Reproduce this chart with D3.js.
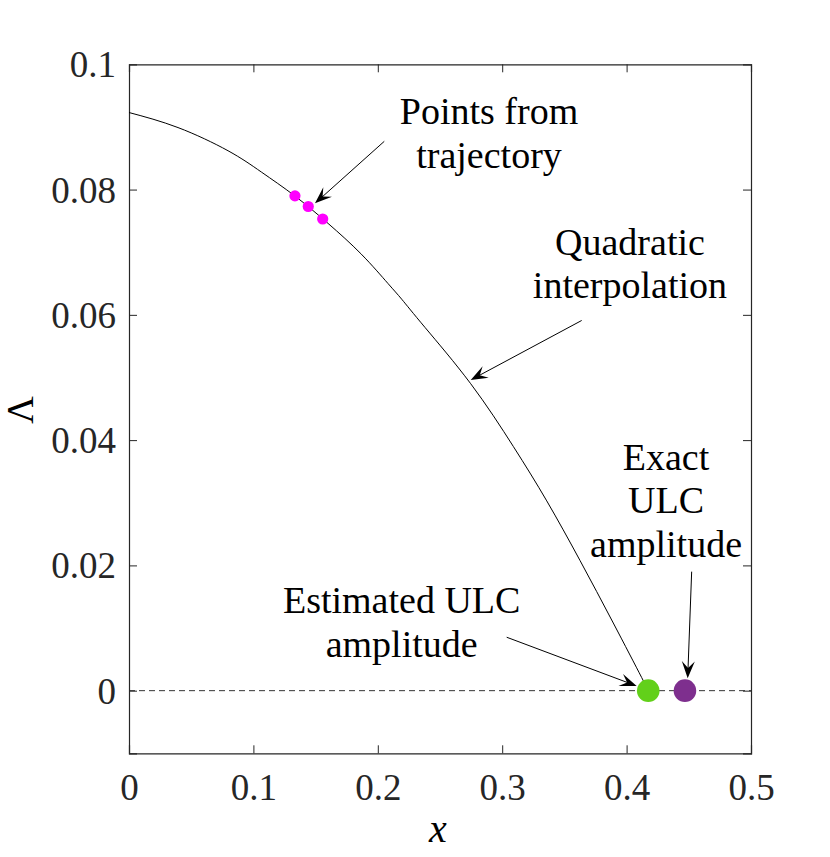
<!DOCTYPE html>
<html><head><meta charset="utf-8">
<script src="https://cdn.jsdelivr.net/npm/d3@7"></script>
<style>body{margin:0;background:#fff;}</style></head>
<body><svg id="c" width="830" height="857"></svg>
<script>
// curve (quadratic interpolation)
const curveX = [0, 0.0394, 0.0796, 0.1064, 0.1332, 0.160, 0.1867, 0.2082, 0.2192, 0.2379, 0.2747, 0.3089, 0.3358, 0.3625, 0.3893, 0.4121, 0.4174];
const curveY = [0.0923, 0.0899, 0.0862, 0.0828, 0.0790, 0.0746, 0.0697, 0.0650, 0.0625, 0.0580, 0.0490, 0.0390, 0.0303, 0.0208, 0.0108, 0.0021, 0];
// points from trajectory
const trajX = [0.1334, 0.1441, 0.1557];
const trajY = [0.0790, 0.0773, 0.0753];
// ULC amplitudes
const estX = 0.4174, exactX = 0.4469;
const xTicks = [0, 0.1, 0.2, 0.3, 0.4, 0.5];
const yTicks = [0, 0.02, 0.04, 0.06, 0.08, 0.1];
const yTickLabels = ["0", "0.02", "0.04", "0.06", "0.08", "0.1"];
const xTickLabels = ["0", "0.1", "0.2", "0.3", "0.4", "0.5"];
// annotations: text lines, anchor (data coords), arrow from -> to (data coords)
const annLines = [["Points from","trajectory"],["Quadratic","interpolation"],["Exact","ULC","amplitude"],["Estimated ULC","amplitude"]];
const annPos = [[0.2894,0.0904],[0.4027,0.0696],[0.4317,0.0353],[0.2192,0.01236]];
const arrFrom = [[0.2052,0.0877],[0.3639,0.0591],[0.4523,0.0190],[0.3036,0.00853]];
const arrTo = [[0.1495,0.0778],[0.2747,0.0496],[0.4491,0.00198],[0.4081,0.00075]];

const FONT = '"Liberation Serif"';
const svg = d3.select("#c");
const L=129, R=751, T=64.3, B=753.3;
const x = d3.scaleLinear().domain([0,0.5]).range([L,R]);
const y = d3.scaleLinear().domain([-0.01,0.1]).range([B,T]);
const axCol = "#262626";

// zero dashed line
svg.append("line").attr("x1",x(0)).attr("x2",x(0.5)).attr("y1",y(0)).attr("y2",y(0))
  .attr("stroke","#333").attr("stroke-width",1).attr("stroke-dasharray","6,4");

// axes (ticks inward)
const tl=8;
const gB = svg.append("g").attr("transform",`translate(0,${B})`)
  .call(d3.axisBottom(x).tickValues(xTicks).tickSize(-tl).tickPadding(20).tickFormat((d,i)=>xTickLabels[i]));
const gT = svg.append("g").attr("transform",`translate(0,${T})`)
  .call(d3.axisTop(x).tickValues(xTicks).tickSize(-tl).tickFormat(""));
const gL = svg.append("g").attr("transform",`translate(${L},0)`)
  .call(d3.axisLeft(y).tickValues(yTicks).tickSize(-tl).tickPadding(13).tickFormat((d,i)=>yTickLabels[i]));
const gR = svg.append("g").attr("transform",`translate(${R},0)`)
  .call(d3.axisRight(y).tickValues(yTicks).tickSize(-tl).tickFormat(""));
[gB,gT,gL,gR].forEach(g=>{
  g.attr("font-family",null).attr("font-size",null);
  g.select(".domain").attr("stroke",axCol).attr("stroke-width",1.2);
  g.selectAll(".tick line").attr("stroke",axCol).attr("stroke-width",1);
  g.selectAll("text").style("font-family",FONT).style("font-size","37px").style("fill","#262626");
});
gB.selectAll("text").attr("dy","0.71em");
gL.selectAll("text").attr("dy","0.34em");
gB.selectAll(".tick").filter(d=>d===0||d===0.5).select("line").remove();
gT.selectAll(".tick").filter(d=>d===0||d===0.5).select("line").remove();
gL.selectAll(".tick").filter(d=>d===0.1).select("line").remove();
gR.selectAll(".tick").filter(d=>d===0.1).select("line").remove();

// axis labels
svg.append("text").attr("x",438).attr("y",842).attr("text-anchor","middle")
  .style("font-family",FONT).style("font-size","40px").style("font-style","italic").text("x");
svg.append("text").attr("transform","translate(33,410) rotate(-90)").attr("text-anchor","middle")
  .style("font-family",FONT).style("font-size","38px").text("Λ");

// curve
const pts = curveX.map((v,i)=>[v,curveY[i]]);
svg.append("path").datum(pts)
  .attr("d",d3.line().x(d=>x(d[0])).y(d=>y(d[1])).curve(d3.curveNatural))
  .attr("fill","none").attr("stroke","#000").attr("stroke-width",1);

// trajectory points
svg.selectAll("circle.tr").data(trajX.map((v,i)=>[v,trajY[i]])).enter().append("circle")
  .attr("class","tr").attr("cx",d=>x(d[0])).attr("cy",d=>y(d[1])).attr("r",5.6).attr("fill","#ff00ff");

// ULC points
svg.append("circle").attr("cx",x(estX)).attr("cy",y(0)).attr("r",11.3).attr("fill","#62d01a");
svg.append("circle").attr("cx",x(exactX)).attr("cy",y(0)).attr("r",11.3).attr("fill","#7e2f8e");

// arrows
arrFrom.forEach((f,i)=>{
  const t=arrTo[i];
  const x1=x(f[0]),y1=y(f[1]),x2=x(t[0]),y2=y(t[1]);
  const ang=Math.atan2(y2-y1,x2-x1);
  const Lh=17, W=6.5;
  svg.append("line").attr("x1",x1).attr("y1",y1).attr("x2",x2-Math.cos(ang)*8).attr("y2",y2-Math.sin(ang)*8)
    .attr("stroke","#000").attr("stroke-width",1);
  svg.append("path").attr("d",`M0,0 L${-Lh},${-W} L${-Lh*0.6},0 L${-Lh},${W} Z`)
    .attr("transform",`translate(${x2},${y2}) rotate(${ang*180/Math.PI})`).attr("fill","#000");
});

// annotation text
annLines.forEach((lines,i)=>{
  lines.forEach((s,j)=>{
    svg.append("text").attr("text-anchor","middle")
      .style("font-family",FONT).style("font-size","38px").style("fill","#000")
      .attr("x",x(annPos[i][0])).attr("y",y(annPos[i][1])+j*43.5).text(s);
  });
});
</script></body></html>
